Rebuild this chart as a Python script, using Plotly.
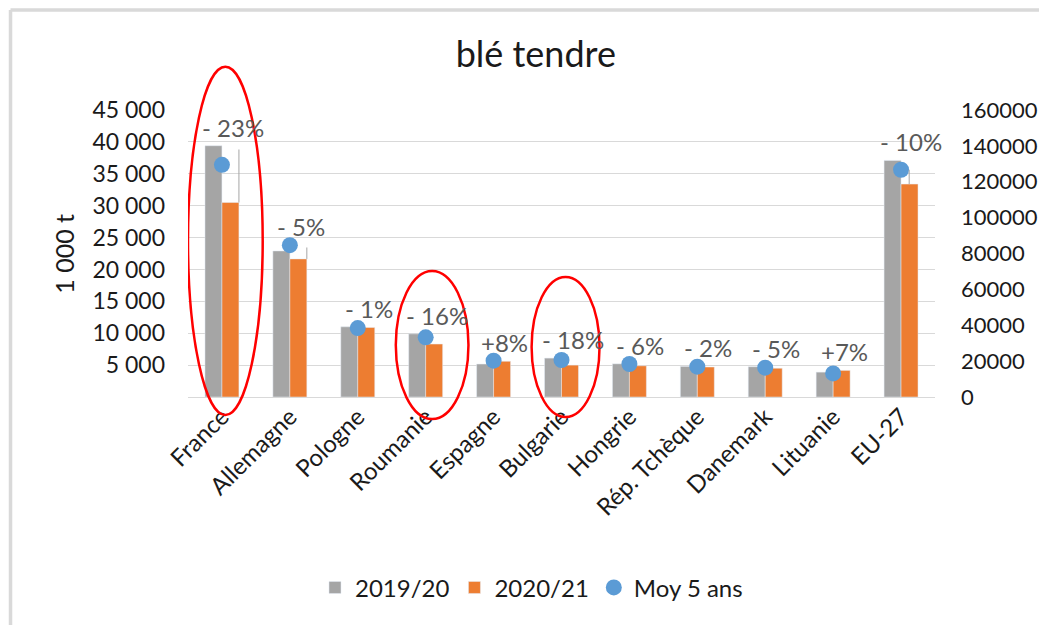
import plotly.graph_objects as go

# ---- data ----
countries = ["France", "Allemagne", "Pologne", "Roumanie", "Espagne", "Bulgarie",
             "Hongrie", "Rép. Tchèque", "Danemark", "Lituanie"]
prod_2019 = [39400, 22900, 11000, 9900, 5170, 6100, 5200, 4800, 4750, 3900]
prod_2020 = [30500, 21650, 10900, 8300, 5600, 5000, 4890, 4700, 4510, 4170]
moy_5ans = [36400, 23800, 10800, 9350, 5690, 5800, 5170, 4750, 4600, 3700]
var_labels = ["- 23%", "- 5%", "- 1%", "- 16%", "+8%", "- 18%", "- 6%", "- 2%", "- 5%", "+7%"]

eu_cat = ["EU-27"]
eu_2019 = [131900]
eu_2020 = [118700]
eu_moy = [126700]
eu_label = ["- 10%"]

left_ticks = [5000, 10000, 15000, 20000, 25000, 30000, 35000, 40000, 45000]
left_ticktext = ["5 000", "10 000", "15 000", "20 000", "25 000", "30 000", "35 000", "40 000", "45 000"]
right_ticks = [0, 20000, 40000, 60000, 80000, 100000, 120000, 140000, 160000]

leader_cats = ["France", "Allemagne"]

GRAY = "#A5A5A5"
ORANGE = "#ED7D31"
BLUE = "#5B9BD5"
FONT = "Lato"
TXT = "#1a1a1a"

all_cats = countries + eu_cat

fig = go.Figure()
fig.add_trace(go.Bar(x=countries, y=prod_2019, name="2019/20", marker_color=GRAY,
                     legendgroup="a", yaxis="y"))
fig.add_trace(go.Bar(x=countries, y=prod_2020, name="2020/21", marker_color=ORANGE,
                     legendgroup="b", yaxis="y"))
fig.add_trace(go.Bar(x=eu_cat, y=eu_2019, name="2019/20", marker_color=GRAY,
                     legendgroup="a", showlegend=False, yaxis="y2"))
fig.add_trace(go.Bar(x=eu_cat, y=eu_2020, name="2020/21", marker_color=ORANGE,
                     legendgroup="b", showlegend=False, yaxis="y2"))
fig.add_trace(go.Scatter(x=countries, y=moy_5ans, name="Moy 5 ans", mode="markers",
                         marker=dict(color=BLUE, size=16), legendgroup="c", yaxis="y"))
fig.add_trace(go.Scatter(x=eu_cat, y=eu_moy, name="Moy 5 ans", mode="markers",
                         marker=dict(color=BLUE, size=16), legendgroup="c",
                         showlegend=False, yaxis="y2"))

# data labels (variation 2020/21 vs 2019/20)
annotations = []
for c, a, b, m, t in zip(countries, prod_2019, prod_2020, moy_5ans, var_labels):
    annotations.append(dict(x=c, y=max(a, b, m), xref="x", yref="y", text=t,
                            showarrow=False, yanchor="bottom", xshift=11, yshift=2,
                            font=dict(family=FONT, size=24, color="#595959")))
for c, a, b, m, t in zip(eu_cat, eu_2019, eu_2020, eu_moy, eu_label):
    annotations.append(dict(x=c, y=max(a, b, m), xref="x", yref="y2", text=t,
                            showarrow=False, yanchor="bottom", xshift=10, yshift=2,
                            font=dict(family=FONT, size=24, color="#595959")))

annotations.append(dict(text="1 000 t", textangle=-90, x=-0.167, y=0.5, xref="paper",
                        yref="paper", showarrow=False, xanchor="center", yanchor="middle",
                        font=dict(family=FONT, size=25, color=TXT)))

shapes = []
# leader lines
for c, a, b, m in zip(countries, prod_2019, prod_2020, moy_5ans):
    if c in leader_cats:
        i = all_cats.index(c)
        shapes.append(dict(type="line", xref="x", yref="y", x0=i + 0.25, x1=i + 0.25,
                           y0=b, y1=max(a, m) * 0.985, line=dict(color="#A6A6A6", width=1)))
for c, a, b, m in zip(eu_cat, eu_2019, eu_2020, eu_moy):
    i = all_cats.index(c)
    shapes.append(dict(type="line", xref="x", yref="y2", x0=i + 0.12, x1=i + 0.12,
                       y0=b, y1=m, line=dict(color="#A6A6A6", width=1)))

# red highlight ellipses
for x0, x1, y0, y1 in [(-0.5, 0.6, -0.063, 1.151), (2.56, 3.63, -0.077, 0.439),
                       (4.56, 5.56, -0.07, 0.418)]:
    shapes.append(dict(type="circle", xref="x", yref="paper", x0=x0, x1=x1, y0=y0, y1=y1,
                       line=dict(color="#FF0000", width=2.5), layer="above"))
# chart frame
shapes.append(dict(type="line", xref="paper", yref="paper", x0=-0.2376, x1=-0.2376,
                   y0=-0.8, y1=1.348, line=dict(color="#D9D9D9", width=3.5)))
shapes.append(dict(type="line", xref="paper", yref="paper", x0=-0.2376, x1=1.16,
                   y0=1.348, y1=1.348, line=dict(color="#D9D9D9", width=3.5)))

fig.update_layout(
    width=1039, height=617,
    margin=dict(l=180, r=112, t=102, b=228, autoexpand=False),
    paper_bgcolor="white", plot_bgcolor="white",
    barmode="group", bargap=0.5, bargroupgap=0,
    title=dict(text="blé tendre", x=0.508, xref="container", y=0.925, yref="container",
               xanchor="center", yanchor="middle",
               font=dict(family=FONT, size=36, color=TXT)),
    xaxis=dict(categoryorder="array", categoryarray=all_cats, tickangle=-45,
               range=[-0.5, len(all_cats) - 0.5],
               tickfont=dict(family=FONT, size=24, color=TXT), automargin=False,
               showline=False, showgrid=False, ticks=""),
    yaxis=dict(range=[0, 45000], tickvals=left_ticks, ticktext=left_ticktext,
               showgrid=True, gridcolor="#D9D9D9", gridwidth=1,
               zeroline=True, zerolinecolor="#D9D9D9", zerolinewidth=1,
               tickfont=dict(family=FONT, size=23, color=TXT), automargin=False,
               ticklabelstandoff=22, showline=False),
    yaxis2=dict(range=[0, 160000], tickvals=right_ticks, overlaying="y", side="right",
                showgrid=False, zeroline=False, tickformat="d", automargin=False,
                tickfont=dict(family=FONT, size=22, color=TXT),
                ticklabelstandoff=25, showline=False),
    legend=dict(orientation="h", x=0.17, y=-0.665, xanchor="left", yanchor="middle",
                font=dict(family=FONT, size=24, color=TXT), traceorder="normal"),
    annotations=annotations,
    shapes=shapes,
    showlegend=True,
)

fig.write_html("out.html")
